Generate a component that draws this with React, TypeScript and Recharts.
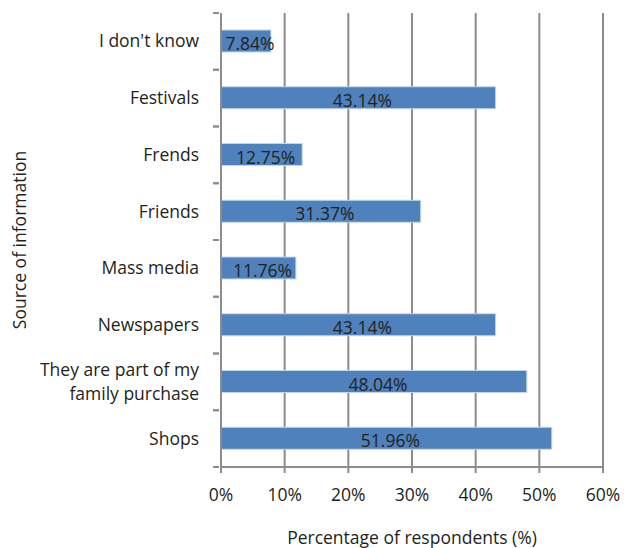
import { Bar, BarChart, CartesianGrid, LabelList, XAxis, YAxis } from "recharts"

const sources = [
  "I don't know",
  "Festivals",
  "Frends",
  "Friends",
  "Mass media",
  "Newspapers",
  "They are part of my family purchase",
  "Shops",
]

const shares = [7.84, 43.14, 12.75, 31.37, 11.76, 43.14, 48.04, 51.96]

const xTicks = [0, 10, 20, 30, 40, 50, 60]

const data = sources.map((source, i) => ({ source, share: shares[i] }))

const font = "'Open Sans', sans-serif"
const ink = "#231f20"
const gridGray = "#8c8c8c"
const textSize = 17.5

// Excel puts the category ticks on the band edges, not the centres
function CategoryTick({ x, y, payload }: any) {
  const half = payload.offset ?? 0
  const lines = payload.value === "They are part of my family purchase"
    ? ["They are part of my", "family purchase"]
    : [payload.value]
  const axisX = x + 6
  return (
    <g>
      <line x1={axisX - 6} x2={axisX} y1={y - half} y2={y - half} stroke={gridGray} strokeWidth={2} />
      <line x1={axisX - 6} x2={axisX} y1={y + half} y2={y + half} stroke={gridGray} strokeWidth={2} />
      <text x={x - 14} y={y - (lines.length - 1) * 12} textAnchor="end" fontFamily={font} fontSize={textSize} fill={ink}>
        {lines.map((l, i) => (
          <tspan key={i} x={x - 14} dy={i === 0 ? 6 : 24}>
            {l}
          </tspan>
        ))}
      </text>
    </g>
  )
}

function ValueLabel({ x, y, width, height, value }: any) {
  return (
    <text
      x={x + width / 2 + 4}
      y={y + height / 2 + 9}
      textAnchor="middle"
      fontFamily={font}
      fontSize={17.5}
      fill={ink}
    >
      {`${value.toFixed(2)}%`}
    </text>
  )
}

export default function App() {
  return (
    <div style={{ position: "fixed", left: 0, top: 0, width: 624, height: 548, background: "#fff" }}>
      <BarChart
        width={624}
        height={548}
        data={data}
        layout="vertical"
        margin={{ top: 13, right: 21, bottom: 0, left: 0 }}
      >
        <CartesianGrid horizontal={false} stroke={gridGray} strokeWidth={2} />
        <XAxis
          type="number"
          domain={[0, 60]}
          ticks={xTicks}
          tickFormatter={(v) => `${v}%`}
          height={81}
          stroke={gridGray}
          strokeWidth={2}
          tickSize={6}
          tickMargin={16}
          tick={{ fontFamily: font, fontSize: textSize, fill: ink }}
          label={{
            value: "Percentage of respondents (%)",
            position: "insideBottom",
            offset: 4,
            style: { fontFamily: font, fontSize: textSize, fill: ink },
          }}
        />
        <YAxis
          type="category"
          dataKey="source"
          width={221}
          stroke={gridGray}
          strokeWidth={2}
          tickLine={false}
          tick={<CategoryTick />}
          interval={0}
          label={{
            value: "Source of information",
            angle: -90,
            position: "insideLeft",
            offset: 20,
            style: { fontFamily: font, fontSize: textSize, fill: ink, textAnchor: "middle" },
          }}
        />
        <Bar dataKey="share" fill="#4f81bd" stroke="#c6d6ea" strokeWidth={1} barSize={22} isAnimationActive={false}>
          <LabelList dataKey="share" content={<ValueLabel />} />
        </Bar>
      </BarChart>
    </div>
  )
}
